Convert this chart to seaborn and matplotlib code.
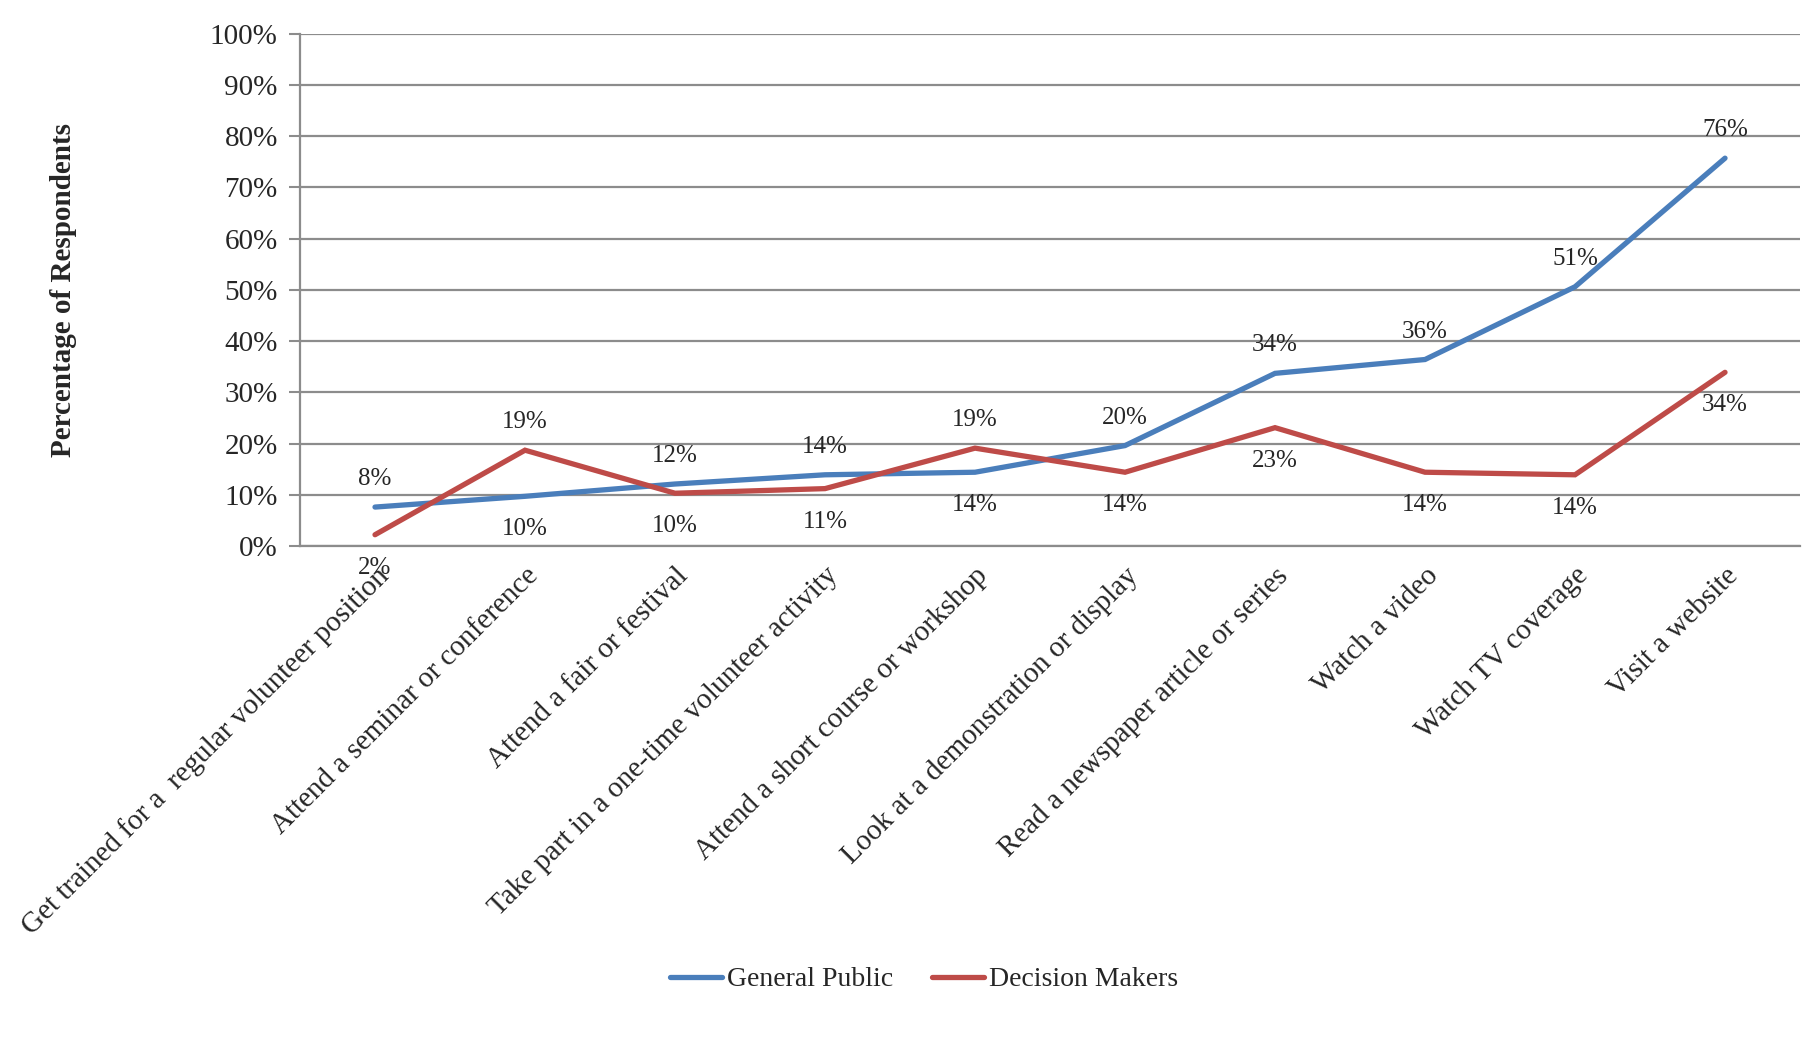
import matplotlib
matplotlib.use("Agg")
import matplotlib.pyplot as plt
import seaborn as sns
import pandas as pd
import numpy as np
from matplotlib.ticker import FixedLocator, PercentFormatter

categories = [
    "Get trained for a  regular volunteer position",
    "Attend a seminar or conference",
    "Attend a fair or festival",
    "Take part in a one-time volunteer activity",
    "Attend a short course or workshop",
    "Look at a demonstration or display",
    "Read a newspaper article or series",
    "Watch a video",
    "Watch TV coverage",
    "Visit a website",
]
general_public = [7.6, 9.7, 12.1, 13.9, 14.4, 19.6, 33.7, 36.4, 50.6, 75.7]
decision_makers = [2.2, 18.7, 10.3, 11.2, 19.1, 14.4, 23.1, 14.4, 13.9, 33.9]
series_names = ["General Public", "Decision Makers"]
colors = ["#4A7EBB", "#BE4B48"]

sns.set_style("white")
plt.rcParams["font.family"] = ["Liberation Serif", "DejaVu Serif"]

df = pd.DataFrame({
    "x": list(range(len(categories))) * 2,
    "value": general_public + decision_makers,
    "series": [series_names[0]] * len(categories) + [series_names[1]] * len(categories),
})

fig = plt.figure(figsize=(18.04, 10.49), dpi=100)
ax = fig.add_axes([0.1663, 0.4795, 0.8315, 0.4884])

sns.lineplot(data=df, x="x", y="value", hue="series", palette=colors,
             linewidth=3.8, ax=ax, legend=False, sort=False)
for ln in ax.lines:
    ln.set_solid_capstyle("round")
    ln.set_solid_joinstyle("miter")

ax.set_xlim(-0.5, len(categories) - 0.5)
ax.set_ylim(0, 100)
ax.yaxis.set_major_locator(FixedLocator(np.arange(0, 101, 10)))
ax.yaxis.set_major_formatter(PercentFormatter(decimals=0))
ax.grid(axis="y", color="#8c8c8c", linewidth=1.6)
ax.set_axisbelow(True)

ax.set_xticks(np.arange(-0.5, len(categories), 1.0))
ax.set_xticklabels([])
ax.set_xticks(np.arange(len(categories)), minor=True)
ax.set_xticklabels(categories, minor=True, rotation=45, ha="right",
                   rotation_mode="anchor", fontsize=21)
ax.tick_params(axis="x", which="minor", length=0, pad=12)
ax.tick_params(axis="x", which="major", length=8, width=1.5, color="#8c8c8c", direction="out")
ax.tick_params(axis="y", length=8, width=1.5, color="#8c8c8c", labelsize=21, pad=8, left=True)

for s in ["top", "right"]:
    ax.spines[s].set_visible(False)
for s in ["left", "bottom"]:
    ax.spines[s].set_color("#8c8c8c")
    ax.spines[s].set_linewidth(1.6)

ax.set_xlabel("")
ax.set_ylabel("Percentage of Respondents", fontsize=21, fontweight="bold", labelpad=96)

# data labels: higher series above, lower series below
for i in range(len(categories)):
    g, d = general_public[i], decision_makers[i]
    for v, other in ((g, d), (d, g)):
        off = 28 if v >= other else -33
        ax.annotate(f"{round(v):.0f}%", (i, v), xytext=(0, off), textcoords="offset pixels",
                    ha="center", va="center", fontsize=18)

handles = [plt.Line2D([0], [0], color=c, linewidth=3.8, solid_capstyle="round") for c in colors]
fig.legend(handles, series_names, loc="center", bbox_to_anchor=(0.512, 0.066), ncol=2,
           frameon=False, fontsize=20, handlelength=1.9, handletextpad=0.15, columnspacing=1.4)

fig.savefig("out.png", dpi=100, facecolor="white")
